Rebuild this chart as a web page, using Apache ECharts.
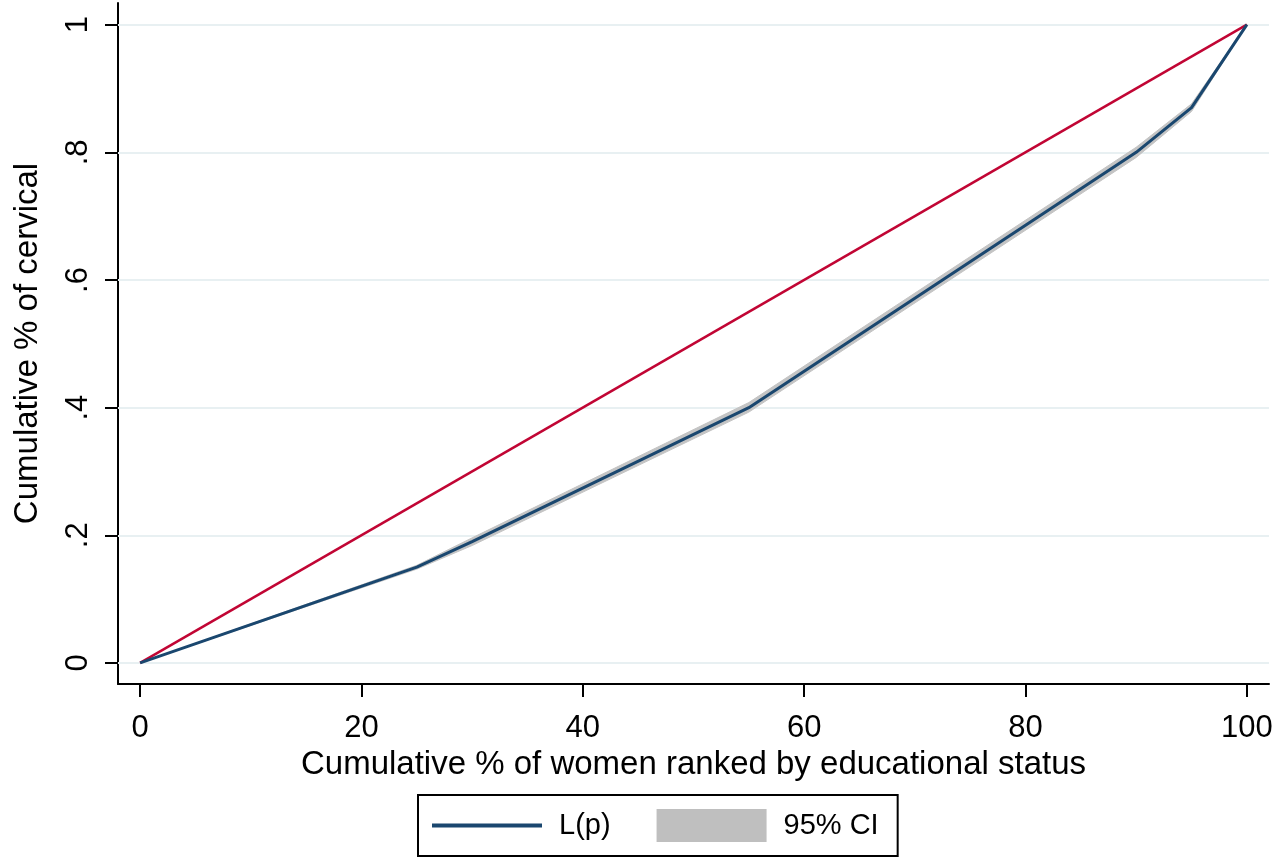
<!DOCTYPE html>
<html>
<head>
<meta charset="utf-8">
<script src="https://cdn.jsdelivr.net/npm/echarts@6/dist/echarts.min.js"></script>
<style>
  html, body { margin: 0; padding: 0; background: #fff; }
  #lorenzChart { width: 1280px; height: 864px; }
</style>
</head>
<body>
<div id="lorenzChart"></div>
<script>
// data
var pctWomen = [0, 25, 30, 55, 90, 95, 100];
var lorenzVals = [0, 0.15, 0.19, 0.40, 0.80, 0.87, 1];
var ciLower = [0, 0.147, 0.184, 0.393, 0.792, 0.864, 1];
var ciUpper = [0, 0.153, 0.196, 0.408, 0.808, 0.876, 1];
var equalityX = [0, 100];
var equalityY = [0, 1];
var xTicks = [0, 20, 40, 60, 80, 100];
var yTicks = [0, 0.2, 0.4, 0.6, 0.8, 1];

var fontFam = '"Liberation Sans", Arial, sans-serif';

function pairs(xs, ys) {
    return xs.map(function (x, i) { return [x, ys[i]]; });
}

var lorenzChart = echarts.init(document.getElementById('lorenzChart'), null, { renderer: 'canvas' });

// band of the confidence interval, one polygon drawn through the axes
function renderBand(params, api) {
    if (params.dataIndexInside !== 0) return;
    var n = params.dataInsideLength;
    var upper = [], lower = [];
    for (var i = 0; i < n; i++) {
        upper.push(api.coord([api.value(0, i), api.value(2, i)]));
        lower.push(api.coord([api.value(0, i), api.value(1, i)]));
    }
    return {
        type: 'polygon',
        shape: { points: upper.concat(lower.reverse()) },
        style: { fill: '#c4c4c4', stroke: '#c4c4c4', lineWidth: 1 },
        silent: true
    };
}

var option = {
    animation: false,
    backgroundColor: '#ffffff',
    textStyle: { fontFamily: fontFam, color: '#000' },
    grid: { left: 118, right: 11, top: 3, bottom: 180, outerBoundsMode: 'none' },
    legend: {
        left: 418,
        top: 795,
        orient: 'horizontal',
        padding: [14, 19, 14, 12],
        itemWidth: 110,
        itemHeight: 33,
        itemGap: 46,
        borderColor: '#000',
        borderWidth: 2,
        selectedMode: false,
        textStyle: { fontSize: 29, fontFamily: fontFam, color: '#000', padding: [0, 0, 0, 12] },
        data: [
            { name: 'L(p)', itemStyle: { opacity: 0 }, lineStyle: { width: 4, color: '#1a476f' } },
            { name: '95% CI', icon: 'rect', itemStyle: { color: '#bfbfbf' } }
        ]
    },
    xAxis: {
        type: 'value',
        min: -2,
        max: 102,
        name: 'Cumulative % of women ranked by educational status',
        nameLocation: 'middle',
        nameGap: 62,
        nameTextStyle: { fontSize: 33, fontFamily: fontFam, color: '#000' },
        axisLine: { show: true, onZero: false, lineStyle: { color: '#000', width: 2 } },
        axisTick: { show: true, length: 13, customValues: xTicks, lineStyle: { color: '#000', width: 2 } },
        axisLabel: { customValues: xTicks, fontSize: 31, margin: 29, color: '#000', fontFamily: fontFam },
        splitLine: { show: false }
    },
    yAxis: {
        type: 'value',
        min: -0.033,
        max: 1.034,
        name: 'Cumulative % of cervical',
        nameLocation: 'middle',
        nameGap: 74,
        nameTextStyle: { fontSize: 33, fontFamily: fontFam, color: '#000' },
        axisLine: { show: true, onZero: false, lineStyle: { color: '#000', width: 2 } },
        axisTick: { show: true, length: 13, customValues: yTicks, lineStyle: { color: '#000', width: 2 } },
        axisLabel: {
            customValues: yTicks,
            rotate: 90,
            fontSize: 31,
            margin: 24,
            color: '#000',
            fontFamily: fontFam,
            formatter: function (v) {
                if (v === 0) return '0';
                if (v === 1) return '1';
                return String(+v.toFixed(1)).replace('0.', '.');
            }
        },
        splitLine: { show: false }
    },
    series: [
        // 95% CI band
        {
            name: '95% CI',
            type: 'custom',
            data: pctWomen.map(function (x, i) { return [x, ciLower[i], ciUpper[i]]; }),
            encode: { x: 0, y: [1, 2] },
            itemStyle: { color: '#bfbfbf' },
            renderItem: renderBand,
            silent: true,
            z: 2
        },
        // line of equality, carries the horizontal gridlines
        {
            name: 'equality',
            type: 'line',
            data: pairs(equalityX, equalityY),
            symbol: 'none',
            lineStyle: { color: '#c10534', width: 2.5 },
            silent: true,
            z: 3,
            markLine: {
                silent: true,
                z: 1,
                symbol: 'none',
                label: { show: false },
                lineStyle: { color: '#e8f0f2', width: 2, type: 'solid' },
                data: yTicks.map(function (t) { return { yAxis: t }; })
            }
        },
        // concentration curve
        {
            name: 'L(p)',
            type: 'line',
            data: pairs(pctWomen, lorenzVals),
            symbol: 'none',
            color: '#1a476f',
            lineStyle: { color: '#1a476f', width: 3 },
            silent: true,
            z: 4
        }
    ]
};

lorenzChart.setOption(option);

window.addEventListener('resize', function () {
    lorenzChart.resize();
});
</script>
</body>
</html>
